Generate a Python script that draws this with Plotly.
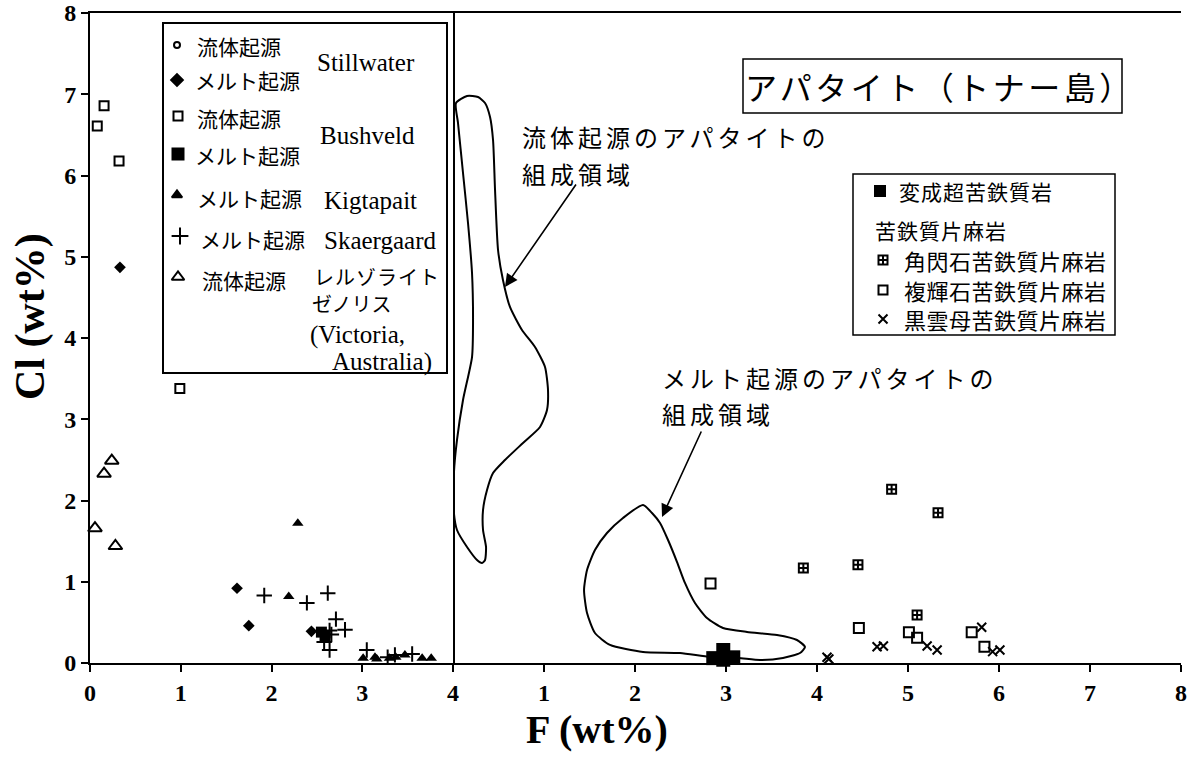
import plotly.graph_objects as go

# ---- Data: left panel (layered intrusions / xenoliths), F vs Cl in wt% ----
stillwater_melt_f = [0.33, 1.62, 1.75, 2.44]
stillwater_melt_cl = [4.87, 0.92, 0.46, 0.39]

bushveld_fluid_f = [0.08, 0.155, 0.32, 0.99]
bushveld_fluid_cl = [6.61, 6.86, 6.18, 3.38]

bushveld_melt_f = [2.55, 2.59]
bushveld_melt_cl = [0.38, 0.33]

kigtapait_f = [2.29, 2.19, 3.01, 3.14, 3.16, 3.30, 3.37, 3.47, 3.66, 3.76]
kigtapait_cl = [1.72, 0.82, 0.06, 0.07, 0.05, 0.06, 0.07, 0.10, 0.06, 0.06]

skaergaard_f = [1.92, 2.39, 2.62, 2.71, 2.81, 2.64, 2.66, 2.58, 2.64, 3.05, 3.28, 3.36, 3.55]
skaergaard_cl = [0.83, 0.74, 0.86, 0.54, 0.41, 0.40, 0.35, 0.26, 0.16, 0.16, 0.07, 0.10, 0.11]

xenolith_f = [0.055, 0.155, 0.24, 0.28]
xenolith_cl = [1.66, 2.33, 2.49, 1.44]

# ---- Data: right panel (Tonagh Island apatite) ----
ultramafic_f = [2.86, 2.97, 2.97, 3.08]
ultramafic_cl = [0.06, 0.16, 0.04, 0.07]

hornblende_f = [3.85, 4.45, 4.82, 5.33, 5.10]
hornblende_cl = [1.17, 1.21, 2.14, 1.85, 0.59]

pyroxene_f = [2.83, 4.46, 5.01, 5.10, 5.70, 5.84]
pyroxene_cl = [0.98, 0.43, 0.38, 0.31, 0.38, 0.20]

biotite_f = [4.11, 4.13, 4.66, 4.73, 5.21, 5.32, 5.81, 5.93, 6.01]
biotite_cl = [0.07, 0.05, 0.20, 0.21, 0.21, 0.16, 0.44, 0.14, 0.16]

# Outline of the fluid-origin apatite field
fluid_field_f = [0.033, 0.154, 0.275, 0.352, 0.407, 0.440, 0.462, 0.495, 0.549, 0.626,
                 0.758, 0.901, 1.011, 1.044, 1.033, 0.956, 0.769, 0.571, 0.440, 0.374,
                 0.330, 0.330, 0.363, 0.352, 0.319, 0.264, 0.154, 0.044, 0.010, 0.008,
                 0.010, 0.044, 0.110, 0.209, 0.220, 0.209, 0.165, 0.110, 0.055, 0.033]
fluid_field_cl = [6.892, 6.978, 6.966, 6.892, 6.720, 6.437, 5.822, 5.083, 4.714, 4.382,
                  4.098, 3.889, 3.643, 3.360, 3.114, 2.905, 2.708, 2.498, 2.338, 2.129,
                  1.883, 1.637, 1.428, 1.268, 1.231, 1.268, 1.428, 1.637, 1.846, 2.043,
                  2.338, 2.745, 3.237, 3.766, 4.185, 4.800, 5.415, 6.031, 6.646, 6.892]

# Outline of the melt-origin apatite field
melt_field_f = [2.088, 2.187, 2.275, 2.363, 2.462, 2.549, 2.659, 2.791, 2.967, 3.231,
                3.560, 3.780, 3.868, 3.813, 3.626, 3.374, 3.132, 2.824, 2.495, 2.088,
                1.725, 1.560, 1.473, 1.440, 1.473, 1.560, 1.692, 1.868, 2.088]
melt_field_cl = [1.945, 1.846, 1.723, 1.514, 1.243, 0.985, 0.738, 0.554, 0.431, 0.382,
                 0.345, 0.283, 0.197, 0.123, 0.062, 0.037, 0.062, 0.074, 0.123, 0.135,
                 0.222, 0.369, 0.615, 0.898, 1.145, 1.391, 1.600, 1.785, 1.945]

left_ticks = [0, 1, 2, 3, 4]
right_ticks = [1, 2, 3, 4, 5, 6, 7, 8]
y_ticks = [0, 1, 2, 3, 4, 5, 6, 7, 8]

W, H = 1192, 763
JP = "Noto Sans CJK JP"
SERIF = "Liberation Serif"


def px(x):
    return x / W


def py(y):
    return 1 - y / H


fig = go.Figure()


def pts(fx, cl, symbol, size, axis="x", filled=False, lw=2):
    fig.add_trace(go.Scatter(
        x=fx, y=cl, xaxis=axis, yaxis="y", mode="markers", cliponaxis=False,
        marker=dict(symbol=symbol, size=size, color="black",
                    line=dict(color="black", width=0 if filled else lw)),
        showlegend=False, hoverinfo="skip"))


# Field outlines (right panel)
for fx, cl in [(fluid_field_f, fluid_field_cl), (melt_field_f, melt_field_cl)]:
    fig.add_trace(go.Scatter(x=fx, y=cl, xaxis="x2", yaxis="y", mode="lines",
                             line=dict(color="black", width=2, shape="spline", smoothing=0.6),
                             showlegend=False, hoverinfo="skip"))

# Left panel points
pts(stillwater_melt_f, stillwater_melt_cl, "diamond", 9, filled=True)
pts(bushveld_fluid_f, bushveld_fluid_cl, "square-open", 9)
pts(bushveld_melt_f, bushveld_melt_cl, "square", 11, filled=True)
pts(kigtapait_f, kigtapait_cl, "triangle-up", 10, filled=True)
pts(skaergaard_f, skaergaard_cl, "cross-thin-open", 11)
pts(xenolith_f, xenolith_cl, "triangle-up-open", 12)

# Right panel points
pts(ultramafic_f, ultramafic_cl, "square", 14, axis="x2", filled=True)
pts(hornblende_f, hornblende_cl, "square-cross-open", 9, axis="x2")
pts(pyroxene_f, pyroxene_cl, "square-open", 10, axis="x2")
pts(biotite_f, biotite_cl, "x-thin-open", 9, axis="x2")

# Legend symbols drawn on a pixel-space overlay
legend_syms = [
    (177, 45, "circle-open", 6), (177, 80, "diamond", 9), (178, 116, "square-open", 9),
    (178, 154, "square", 11), (177, 195, "triangle-up", 9), (180, 236, "cross-thin-open", 12),
    (178, 277, "triangle-up-open", 11),
    (880, 191, "square", 10), (883, 260, "square-cross-open", 9),
    (883, 290, "square-open", 9), (883, 319, "x-thin-open", 9),
]
for lx, ly, sym, sz in legend_syms:
    fig.add_trace(go.Scatter(
        x=[lx], y=[ly], xaxis="x3", yaxis="y3", mode="markers", cliponaxis=False,
        marker=dict(symbol=sym, size=sz, color="black", line=dict(color="black", width=2)),
        showlegend=False, hoverinfo="skip"))

annotations = []


def text(x, y, s, size=21, family=JP, xanchor="left", **kw):
    annotations.append(dict(x=px(x), y=py(y), xref="paper", yref="paper", text=s,
                            showarrow=False, xanchor=xanchor, yanchor="middle",
                            font=dict(family=family, size=size, color="black"), **kw))


def spaced(s, sp):
    return f'<span style="letter-spacing:{sp}px">{s}</span>'


# Left legend
text(195, 46, "流体起源")
text(193, 80, "メルト起源")
text(195, 118, "流体起源")
text(193, 155, "メルト起源")
text(195, 198, "メルト起源")
text(198, 239, "メルト起源")
text(200, 280, "流体起源")
text(315, 63, "Stillwater", 25, SERIF)
text(318, 135, "Bushveld", 25, SERIF)
text(322, 200, "Kigtapait", 25, SERIF)
text(322, 241, "Skaergaard", 25, SERIF)
text(312, 277, spaced("レルゾライト", 1), 20)
text(310, 304, "ゼノリス", 20)
text(308, 335, "(Victoria,", 25, SERIF)
text(330, 362, "Australia)", 25, SERIF)

# Right legend
text(897, 191, spaced("変成超苦鉄質岩", 1), 21)
text(873, 230, spaced("苦鉄質片麻岩", 1), 21)
text(902, 260, spaced("角閃石苦鉄質片麻岩", 0.5), 22)
text(902, 290, spaced("複輝石苦鉄質片麻岩", 0.5), 22)
text(902, 319, spaced("黒雲母苦鉄質片麻岩", 0.5), 22)

# Title box text
text(940, 86, spaced("アパタイト（トナー島）", 3.5), 32, xanchor="center")

# Field labels
text(520, 137, spaced("流体起源のアパタイトの", 4), 24)
text(520, 173, spaced("組成領域", 4), 24)
text(660, 377, spaced("メルト起源のアパタイトの", 4), 24)
text(660, 413, spaced("組成領域", 4), 24)

# Axis titles
text(597, 729, "<b>F (wt%)</b>", 40, SERIF, xanchor="center")
annotations.append(dict(x=px(30), y=py(317), xref="paper", yref="paper",
                        text="<b>Cl (wt%)</b>", showarrow=False, textangle=-90,
                        xanchor="center", yanchor="middle",
                        font=dict(family=SERIF, size=42, color="black")))

# Arrows pointing at the two fields
for tip, tail in [((0.571, 4.628), (1.363, 5.908)), ((2.297, 1.797), (2.736, 2.868))]:
    annotations.append(dict(x=tip[0], y=tip[1], ax=tail[0], ay=tail[1],
                            xref="x2", yref="y", axref="x2", ayref="y", text="",
                            showarrow=True, arrowhead=2, arrowsize=1.6, arrowwidth=1.6,
                            arrowcolor="black", standoff=0))

shapes = []
for (x0, y0, x1, y1, w) in [(163, 23, 447, 373, 2), (853, 174, 1115, 335, 1.5),
                            (743, 59, 1122, 113, 1.5)]:
    shapes.append(dict(type="rect", xref="paper", yref="paper",
                       x0=px(x0), x1=px(x1), y0=py(y0), y1=py(y1),
                       line=dict(color="black", width=w), fillcolor="rgba(0,0,0,0)"))

tickfont = dict(family=SERIF, size=24, color="black", weight="bold")
xd1 = [px(90), px(453)]
xd2 = [px(453), px(1181)]
yd = [py(663), py(13)]

axis_common = dict(ticks="outside", ticklen=7, tickwidth=2, tickcolor="black",
                   showline=True, linewidth=2, linecolor="black", mirror=True,
                   showgrid=False, zeroline=False, tickfont=tickfont, automargin=False)

fig.update_layout(
    width=W, height=H, margin=dict(l=0, r=0, t=0, b=0, autoexpand=False),
    paper_bgcolor="white", plot_bgcolor="rgba(0,0,0,0)",
    showlegend=False,
    xaxis=dict(domain=xd1, range=[0, 4], anchor="y", tickvals=left_ticks, **axis_common),
    xaxis2=dict(domain=xd2, range=[0, 8], anchor="y", tickvals=right_ticks, **axis_common),
    yaxis=dict(domain=yd, range=[0, 8], anchor="x", tickvals=y_ticks, **axis_common),
    yaxis2=dict(domain=yd, range=[0, 8], anchor="x2", showticklabels=False,
                showline=True, linewidth=2, linecolor="black", mirror=True,
                showgrid=False, zeroline=False, ticks="", automargin=False),
    xaxis3=dict(domain=[0, 1], range=[0, W], anchor="y3", visible=False, automargin=False),
    yaxis3=dict(domain=[0, 1], range=[H, 0], anchor="x3", visible=False, automargin=False),
    annotations=annotations,
    shapes=shapes,
)

fig.write_html("out.html")
